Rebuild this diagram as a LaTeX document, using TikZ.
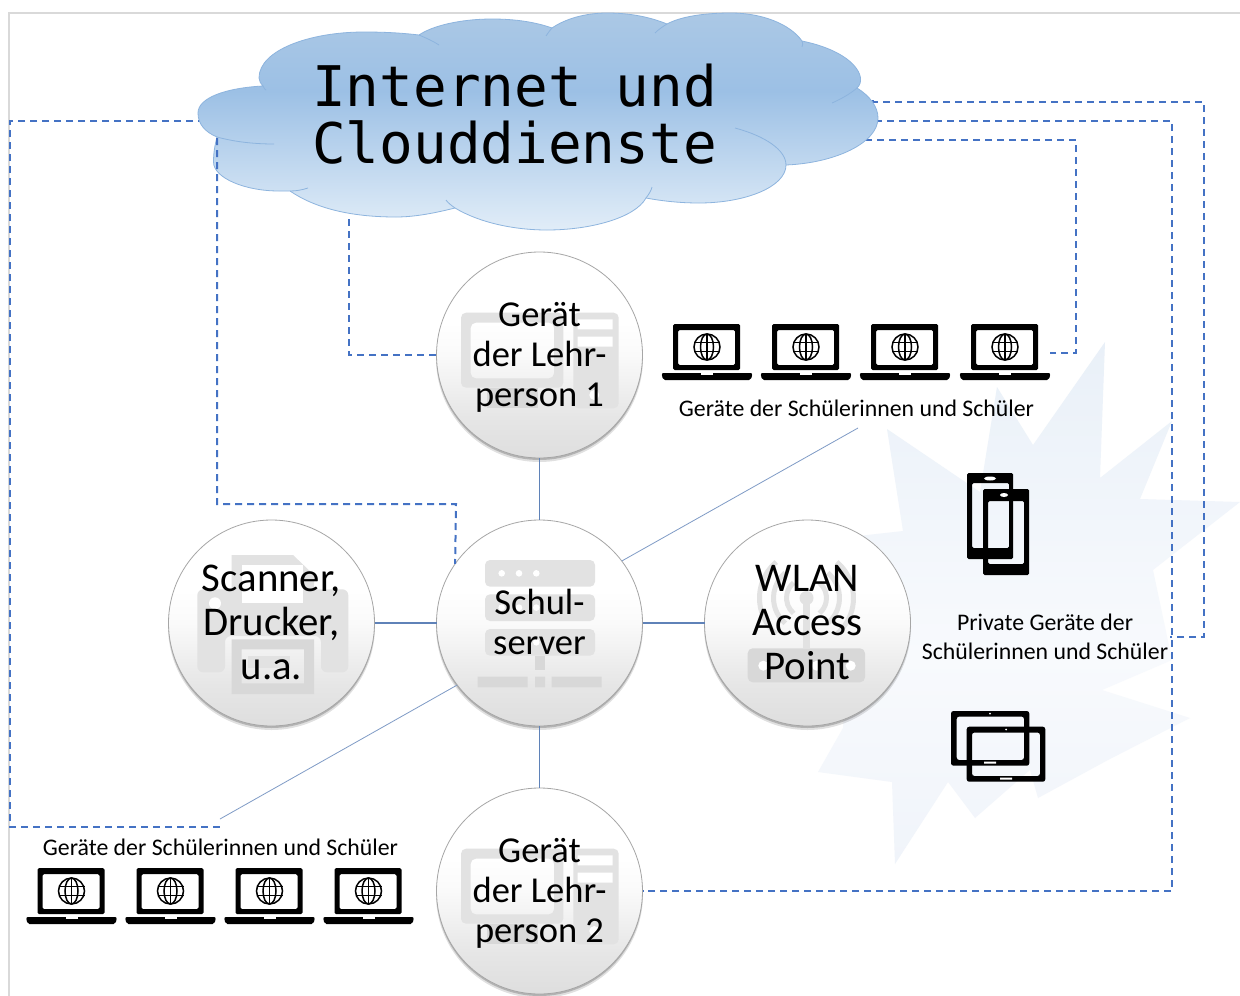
\documentclass[tikz,border=0pt]{standalone}
\usepackage{fontspec}
\setmainfont{Carlito}
\newfontfamily\cloudfont{DejaVu Sans Mono}
\usetikzlibrary{positioning,calc}
\definecolor{cloudA}{HTML}{E1EDF8}
\definecolor{cloudB}{HTML}{9CC0E5}
\definecolor{cloudC}{HTML}{ABC8E5}
\definecolor{cloudLine}{HTML}{8DB4DE}
\definecolor{starA}{HTML}{E9F0F8}
\definecolor{starB}{HTML}{F8FAFD}
\definecolor{starC}{HTML}{F0F4FA}
\definecolor{circA}{HTML}{DEDEDE}
\definecolor{circB}{HTML}{E6E6E6}
\definecolor{circC}{HTML}{FAFAFA}
\definecolor{ghost}{HTML}{E2E2E2}
\definecolor{ghostD}{HTML}{D8D8D8}
\definecolor{linkBlue}{HTML}{4472C4}
\definecolor{thinBlue}{HTML}{5F82B8}
\definecolor{frameGrey}{HTML}{D9D9D9}
\pgfdeclareverticalshading{cloudsh}{100bp}{color(0bp)=(cloudA); color(25bp)=(cloudA); color(57bp)=(cloudB); color(75bp)=(cloudC); color(100bp)=(cloudC)}
\pgfdeclareverticalshading{starsh}{100bp}{color(0bp)=(starC); color(25bp)=(starC); color(45bp)=(starB); color(75bp)=(starA); color(100bp)=(starA)}
\pgfdeclareverticalshading{circsh}{100bp}{color(0bp)=(circA); color(25bp)=(circA); color(35bp)=(circB); color(50bp)=(circC); color(58bp)=(white); color(100bp)=(white)}
\pgfdeclarelayer{base}
\pgfdeclarelayer{bg}
\pgfsetlayers{base,bg,main}
\newcommand{\downshift}{\rule{0pt}{28pt}}
\newcommand{\upshift}{\rule[-2pt]{0pt}{2pt}}
\tikzset{
  dashlink/.style={linkBlue,line width=2pt,dash pattern=on 7pt off 5pt},
  solidlink/.style={thinBlue,line width=1.3pt},
  thinlink/.style={thinBlue!80,line width=0.8pt},
  circ/.style={circle,draw=black!35,line width=0.8pt,minimum size=206pt,inner sep=0pt,outer sep=0pt,align=center,text=black},
  text36/.style={font=\fontsize{36.5}{40}\selectfont},
  text40/.style={font=\fontsize{40.8}{44}\selectfont},
  caption/.style={font=\fontsize{23.8}{29}\selectfont,align=center,text=black,inner sep=0pt},
  laptop/.pic={
    \fill[black,rounded corners=1.5pt,even odd rule] (-34,-23) rectangle (33,23) (-29,-17) rectangle (28,18);
    \fill[black,rounded corners=2pt] (-45.5,26) -- (45.5,26) -- (44,33) -- (-44,33) -- cycle;
    \fill[white] (-6,26) rectangle (6,28);
    \draw[black,line width=1.5pt] (0,0) circle (13);
    \draw[black,line width=1.5pt] (0,0) ellipse (6.5 and 13);
    \draw[black,line width=1.5pt] (0,-13) -- (0,13);
    \draw[black,line width=1.5pt] (-13,-4.5) -- (13,-4.5) (-13,4.5) -- (13,4.5);
  },
  pcicon/.pic={
    \fill[ghost,rounded corners=5pt,even odd rule] (-78.5,-42.3) rectangle (23.8,32.7) (-68.8,-32.3) rectangle (14.5,23.3);
    \fill[ghostD] (-52.8,32.7) rectangle (-1.2,53);
    \fill[ghost,rounded corners=5pt] (33.8,-42.3) rectangle (79.2,53.3);
    \fill[white] (38.2,-35.7) rectangle (73.2,-25.7) (38.2,-18.3) rectangle (73.2,-8.3);
    \fill[white] (54.8,40) circle (5);
  }
}
\begin{document}
\begin{tikzpicture}[x=1pt,y=-1pt]
\useasboundingbox (0,0) rectangle (1240,996);
\begin{pgfonlayer}{base}
\fill[white] (0,0) rectangle (1240,996);
\draw[frameGrey,line width=1.6pt] (9,996) -- (9,13) -- (1240,13);
% background flash
\shade[shading=starsh] (1105,342) -- (1100,478) -- (1172,421) -- (1140,499) -- (1240,502) -- (1153,570) -- (1172,660) -- (1102,690) -- (1190,718) -- (1108,760) -- (1038,798) -- (1030,770) -- (975,818) -- (948,782) -- (895,864) -- (892,782) -- (818,772) -- (843,728) -- (858,536) -- (903,531) -- (887,429) -- (980,492) -- (997,387) -- (1033,445) -- cycle;
\end{pgfonlayer}

% free ends
\coordinate (cloudWa) at (205,121);
\coordinate (cloudWb) at (217,138);
\coordinate (cloudS) at (349,219);
\coordinate (cloudEa) at (873,100);
\coordinate (cloudEb) at (875,121);
\coordinate (cloudEc) at (865,140);
\coordinate (privEnd) at (1170,637);
\coordinate (lapEnd) at (1050,353);
\coordinate (capTop) at (858,428);
\coordinate (capBot) at (220,819);
\coordinate (capBotDash) at (222,827);

\begin{pgfonlayer}{bg}
  \foreach \cx/\cy in {539.5/355,539.5/623,271.5/623,807.5/623,539.5/891}{
    \fill[black,opacity=0.12] (\cx,\cy+3.5) circle (103.5);
    \fill[black,opacity=0.2] (\cx,\cy+2) circle (103);
    \shade[shading=circsh] (\cx,\cy) circle (103);
  }
  % teacher device icons
  \pic at (539.5,355) {pcicon};
  \pic at (539.5,891) {pcicon};
  % printer icon
  \fill[ghost] (231.7,555) -- (293,555) -- (314,575) -- (314,590) -- (231.7,590) -- cycle;
  \fill[ghost,rounded corners=6pt] (197.3,589.3) -- (348.3,589.3) -- (348.3,672.3) -- (321,672.3) -- (321,636) -- (225,636) -- (225,672.3) -- (197.3,672.3) -- cycle;
  \fill[white] (241.7,565) rectangle (303.3,603);
  \fill[white] (215,603.3) circle (6);
  \fill[ghostD,even odd rule] (231.7,639.3) rectangle (314,694) (241.7,649.3) rectangle (304,683.3);
  \fill[ghost] (248,656) rectangle (290,668);
  % server icon
  \foreach \ry in {560,594.3,629}{
    \fill[ghost,rounded corners=5pt] (485,\ry) rectangle (595,\ry+26.7);
    \foreach \dx in {501.7,519,536.3}{\fill[white] (\dx,\ry+13.3) circle (3.3);}
  }
  \fill[ghostD] (535,655.7) rectangle (545,670);
  \fill[ghostD] (477.7,676.7) rectangle (527.7,687.3) (535,676.7) rectangle (545,687.3) (551.7,676.7) rectangle (601.7,687.3);
  % access point icon
  \fill[ghostD,rounded corners=5pt] (747.7,648.3) rectangle (865,682.3);
  \foreach \dx in {763.3,816.7,850.7}{\fill[white] (\dx,665.7) circle (5);}
  \fill[ghost] (803,598) rectangle (810,648.3);
  \fill[ghost] (806.5,598) circle (7);
  \foreach \rr in {20,33,47}{
    \draw[ghost,line width=5pt] ($(806.5,598)+(-50:\rr)$) arc[start angle=-50,end angle=50,radius=\rr];
    \draw[ghost,line width=5pt] ($(806.5,598)+(130:\rr)$) arc[start angle=130,end angle=230,radius=\rr];
  }
\end{pgfonlayer}

\node[circ,text36] (t1) at (539.5,355) {\downshift Gerät\\der Lehr-\\person 1};
\node[circ,text36] (server) at (539.5,623) {Schul-\\server\upshift};
\node[circ,text40] (printer) at (271.5,623) {Scanner,\\Drucker,\\u.a.\upshift};
\node[circ,text40] (ap) at (807.5,623) {WLAN\\Access\\Point};
\node[circ,text36] (t2) at (539.5,891) {\downshift Gerät\\der Lehr-\\person 2};

% solid connectors
\draw[solidlink] (t1) -- (server);
\draw[solidlink] (printer) -- (server);
\draw[solidlink] (server) -- (ap);
\draw[solidlink] (server) -- (t2);
\draw[thinlink] (server.37) -- (capTop);
\draw[thinlink] (server.217.5) -- (capBot);

% dashed connectors
\draw[dashlink] (cloudWa) -- (10,121) -- (10,827) -- (capBotDash);
\draw[dashlink] (cloudS) -- (349,355) -- (t1.west);
\draw[dashlink] (cloudEa) -- (873,102) -- (1204,102) -- (1204,637) -- (privEnd);
\draw[dashlink] (cloudEb) -- (1172,121) -- (1172,891) -- (t2.east);
\draw[dashlink] (cloudEc) -- (1076,140) -- (1076,353) -- (lapEnd);

% cloud
\shade[shading=cloudsh,draw=cloudLine,line width=0.8pt]
 (263,86) .. controls (225,88) and (198,98) .. (198,113)
 .. controls (198,124) and (205,132) .. (217,137)
 .. controls (215,145) and (213.5,152) .. (213.5,162)
 .. controls (213.5,178) and (245,191) .. (279,191)
 .. controls (283,191) and (287,191) .. (290,191)
 .. controls (315,208) and (350,217) .. (396,217)
 .. controls (415,217) and (435,213) .. (455,208)
 .. controls (480,223) and (515,230) .. (547,230)
 .. controls (590,230) and (635,218) .. (646,198)
 .. controls (662,201) and (680,203) .. (699,203)
 .. controls (745,203) and (786,187) .. (786,165)
 .. controls (835,163) and (878,143) .. (878,118)
 .. controls (878,107) and (870,96) .. (857,88)
 .. controls (868,78) and (855,52) .. (802,41)
 .. controls (790,24) and (762,13) .. (731,13)
 .. controls (702,13) and (680,17) .. (667,24)
 .. controls (650,17) and (630,13) .. (607,13)
 .. controls (585,13) and (565,19) .. (552,28)
 .. controls (535,22) and (515,19) .. (492,19)
 .. controls (460,19) and (432,26) .. (419,35)
 .. controls (402,33) and (385,32) .. (364,32)
 .. controls (310,32) and (259,50) .. (259,78)
 .. controls (259,81) and (261,84) .. (263,86) -- cycle;
\draw[cloudLine,line width=0.8pt]
 (263,86) .. controls (264,88) and (265,90) .. (266,90)
 (217,137) .. controls (235,142) and (255,144) .. (274,144)
 (290,191) .. controls (296,191) and (302,190) .. (308,188)
 (455,208) .. controls (451,205) and (448,203) .. (446,200)
 (646,198) .. controls (649,194) and (651,191) .. (652,187)
 (786,165) .. controls (786,150) and (765,136) .. (735,128)
 (857,88) .. controls (850,94) and (841,99) .. (832,103)
 (802,41) .. controls (803,43) and (803,45) .. (802,47)
 (667,24) .. controls (662,27) and (658,30) .. (655,33)
 (552,28) .. controls (550,30) and (548,33) .. (546,36)
 (419,35) .. controls (426,38) and (433,41) .. (439,45);
\node[font=\cloudfont\fontsize{56}{57}\selectfont,align=left,inner sep=0pt,text=black] (cloud) at (514.5,114) {Internet und\\Clouddienste};

% this link lies over the lower left lobe of the cloud
\draw[dashlink] (cloudWb) -- (217,504) -- (456,504) -- (server.145);

% captions
\node[caption] (capA) at (856.5,408) {Geräte der Schülerinnen und Schüler};
\node[caption] (capB) at (220.5,847) {Geräte der Schülerinnen und Schüler};
\node[caption] (capC) at (1045,637) {Private Geräte der\\Schülerinnen und Schüler};

% laptops
\foreach \lx in {707,806,905,1005}{\pic at (\lx,347) {laptop};}
\foreach \lx in {71.5,170.5,269.5,368.5}{\pic at (\lx,891) {laptop};}

% phones
\fill[black,even odd rule,rounded corners=1.5pt] (967,473) rectangle (1013,559) (972,483) rectangle (1009,548);
\fill[black,even odd rule,rounded corners=1.5pt] (983,489) rectangle (1029,575) (988,501) rectangle (1024,564);
\fill[white] (990,478.5) ellipse (6 and 2);
\fill[white] (1004,495) ellipse (4 and 2);

% tablets
\fill[black,even odd rule,rounded corners=2.5pt] (951,711) rectangle (1029.3,765.7) (956.7,716.5) rectangle (1024,760);
\fill[black,even odd rule,rounded corners=2.5pt] (966.7,726.7) rectangle (1045.3,781.7) (972,732.5) rectangle (1040,776);
\fill[white] (990,713.7) circle (1) (1006,729.5) circle (1);
\fill[white] (984,761.7) rectangle (996,763.7) (1000,777.7) rectangle (1012,779.7);
\end{tikzpicture}
\end{document}
